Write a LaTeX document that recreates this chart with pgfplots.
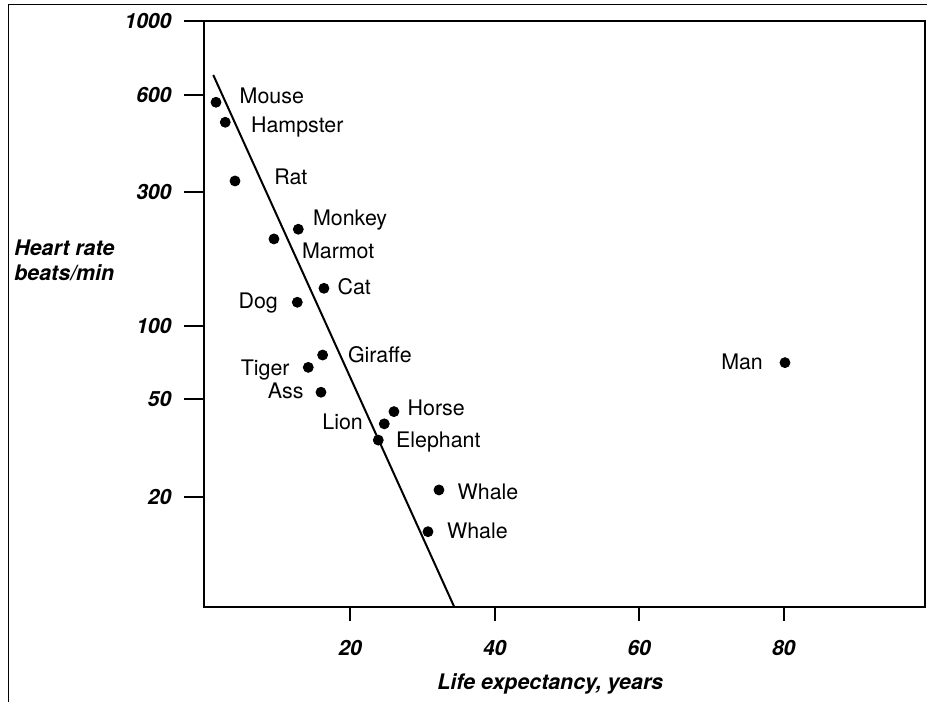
\documentclass[border=0pt]{standalone}
\usepackage{pgfplots}
\pgfplotsset{compat=1.18}
\usepackage{pgfplotstable}
\usepackage{fontspec}
\setmainfont{TeX Gyre Heros}
\newcommand\lbfont{\fontsize{10.7pt}{12.5pt}\selectfont\bfseries\itshape}
\newcommand\tkfont{\fontsize{10.5pt}{12pt}\selectfont\bfseries\itshape}
\newcommand\ptfont{\fontsize{10.7pt}{12.5pt}\selectfont}

% animals labelled on the right of their dot (x = life expectancy, y = heart rate)
\pgfplotstableread{
x y label dx dy
1.43 569.4 Mouse 11.65 -0.5
2.71 493.4 Hampster 12.7 -5.2
4.06 323.9 Rat 19.5 -2.0
12.82 220.6 Monkey 7.2 1.65
9.45 203.8 Marmot 13.85 -9.65
16.37 136.1 Cat 6.65 -3.35
16.19 75.9 Giraffe 12.5 -3.85
26.06 44.4 Horse 6.65 -2.15
23.89 34.0 Elephant 8.7 -3.65
32.29 21.3 Whale 9.15 -4.65
30.77 14.4 Whale 9.35 -3.65
}\rightlabeled
% animals labelled on the left of their dot
\pgfplotstableread{
x y label dx dy
12.68 121.4 Dog -9.5 -3.35
14.20 67.5 Tiger -9.15 -3.85
15.96 53.3 Ass -8.5 -3.0
24.72 39.6 Lion -10.5 -3.0
80.18 70.6 Man -10.85 -3.3
}\leftlabeled
% fitted line
\pgfplotstableread{
x y
1.05 688.4
34.41 7.107
}\fitline

\begin{document}
\begin{tikzpicture}
\begin{axis}[
  at={(0,0)}, anchor=south west,
  scale only axis, width=360.6pt, height=293.15pt,
  xmin=-0.26, xmax=99.56,
  ymin=7.107, ymax=1000,
  y coord trafo/.code={%
    \pgfmathparse{ln(#1)/2.302585093}%
    \let\hrL\pgfmathresult
    \pgfmathparse{\hrL>=2.77815 ? 512+(\hrL-2.77815)*334.91 : (\hrL>=2.47712 ? 415.3+(\hrL-2.47712)*321.23 : (\hrL>=2 ? 281+(\hrL-2)*281.48 : (\hrL>=1.69897 ? 208+(\hrL-1.69897)*242.5 : 110.3+(\hrL-1.30103)*245.51)))}%
  },
  xtick={20,40,60,80}, xticklabels={20,40,60,80},
  ytick={20,50,100,300,600,1000}, yticklabels={20,50,100,300,600,1000},
  minor tick num=0,
  xtick pos=bottom, ytick pos=left,
  tick align=outside,
  major tick length=10pt,
  xtick style={/pgfplots/major tick length=7pt},
  tick style={line width=1pt, black},
  axis line style={line width=1pt, black},
  ticklabel style={font=\tkfont, inner sep=0pt},
  yticklabel style={xshift=-6.05pt},
  xticklabel style={yshift=-6.65pt},
  xlabel={Life expectancy, years},
  xlabel style={at={(axis description cs:0.4803,-0.1404)}, anchor=base, inner sep=0pt, font=\lbfont},
  ylabel={Heart rate\\beats/min},
  ylabel style={rotate=-90, at={(axis description cs:-0.2632,0.6266)}, anchor=north west, align=left, inner sep=0pt, font=\lbfont},
  clip=false,
]
\addplot[black, line width=1pt, mark=none] table[x=x,y=y] {\fitline};
\addplot[only marks, mark=*, mark size=2.5pt, mark options={fill=black, draw=black},
  point meta=explicit symbolic, nodes near coords,
  visualization depends on={\thisrow{dx}\as\lblx},
  visualization depends on={\thisrow{dy}\as\lbly},
  nodes near coords style={anchor=base west, inner sep=0pt, xshift=\lblx, yshift=\lbly, font=\ptfont, text=black}]
  table[x=x,y=y,meta=label] {\rightlabeled};
\addplot[only marks, mark=*, mark size=2.5pt, mark options={fill=black, draw=black},
  point meta=explicit symbolic, nodes near coords,
  visualization depends on={\thisrow{dx}\as\lblx},
  visualization depends on={\thisrow{dy}\as\lbly},
  nodes near coords style={anchor=base east, inner sep=0pt, xshift=\lblx, yshift=\lbly, font=\ptfont, text=black}]
  table[x=x,y=y,meta=label] {\leftlabeled};
\end{axis}
\draw[line width=0.6pt, black] (-97.75pt,-47.5pt) -- (-97.75pt,301.15pt) -- (361.6pt,301.15pt);
\pgfresetboundingbox
\path[use as bounding box] (-101.9pt,-47.5pt) rectangle (361.6pt,303.5pt);
\end{tikzpicture}
\end{document}
